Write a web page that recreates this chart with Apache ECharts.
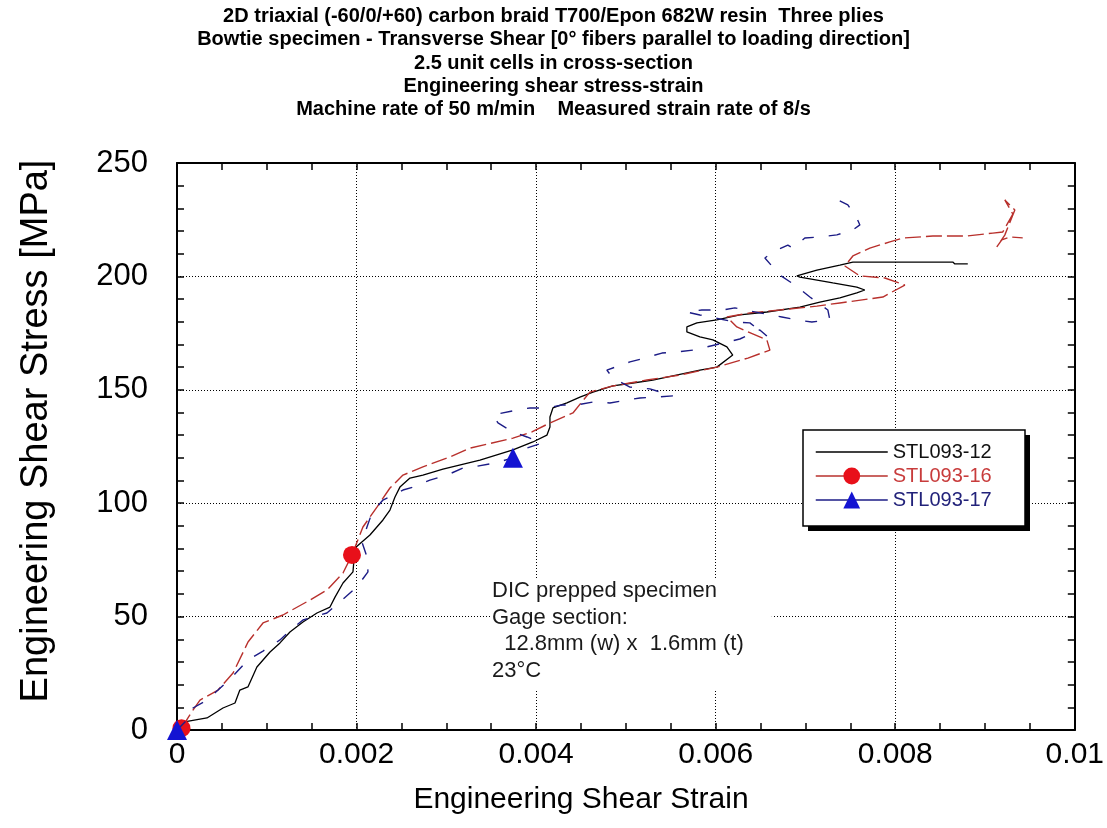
<!DOCTYPE html>
<html><head><meta charset="utf-8">
<script src="https://cdn.jsdelivr.net/npm/echarts@6/dist/echarts.min.js"></script>
<style>html,body{margin:0;padding:0;background:#fff}#c{width:1107px;height:828px}</style>
</head><body><div id="c"></div>
<script>
const titleLines = [
  '2D triaxial (-60/0/+60) carbon braid T700/Epon 682W resin  Three plies',
  'Bowtie specimen - Transverse Shear [0\u00b0 fibers parallel to loading direction]',
  '2.5 unit cells in cross-section',
  'Engineering shear stress-strain',
  'Machine rate of 50 m/min    Measured strain rate of 8/s'
];
const xAxisTitle = 'Engineering Shear Strain';
const yAxisTitle = 'Engineering Shear Stress [MPa]';
const xTickLabels = ['0', '0.002', '0.004', '0.006', '0.008', '0.01'];
const yTickLabels = ['0', '50', '100', '150', '200', '250'];
const seriesNames = ['STL093-12', 'STL093-16', 'STL093-17'];
const noteLines = ['DIC prepped specimen', 'Gage section:', '  12.8mm (w) x  1.6mm (t)', '23\u00b0C'];

// STL093-12 (black solid)
const strain12 = [0, 0.000067, 0.000334, 0.000512, 0.000646, 0.00070, 0.00079, 0.00089, 0.001036, 0.001147,
  0.001258, 0.001403, 0.001559, 0.001704, 0.00176, 0.001849, 0.00196, 0.001982, 0.002149, 0.002294,
  0.002372, 0.002428, 0.002483, 0.002595, 0.002739, 0.002962, 0.003374, 0.003742, 0.003964, 0.00412,
  0.004154, 0.004154, 0.004187, 0.004343, 0.004488, 0.004633, 0.004855, 0.005078, 0.00530, 0.005457,
  0.005824, 0.006013, 0.00619, 0.006125, 0.005969, 0.005824, 0.005679, 0.005679, 0.005791, 0.006013,
  0.006269, 0.00657, 0.006938, 0.00716, 0.007383, 0.007572, 0.007661, 0.007572, 0.007305, 0.006938,
  0.006904, 0.007127, 0.007383, 0.007528, 0.008641, 0.008664, 0.008808];
const stress12 = [0, 3.5, 5.3, 9.7, 11.9, 17.6, 19, 27.8, 34.4, 38.4,
  43.2, 47.6, 51.6, 54.2, 58.6, 64.8, 69.7, 80.2, 86, 92.6,
  97, 102.7, 107.1, 111.1, 112.4, 115, 119, 123.5, 127, 130,
  133.6, 138, 142, 144.2, 146.8, 149, 151.7, 153, 154.3, 155.6,
  158.7, 160, 165.3, 168.9, 172, 173.3, 175.5, 177.7, 179.5, 180.8,
  183, 184.3, 186.5, 188.7, 190.5, 192.7, 194, 195.3, 197.1, 199.7,
  200.2, 202.8, 205, 206.3, 206.3, 205.5, 205.5];

// STL093-16 (red dashed, circle markers)
const strain16 = [0.00005, 0.000178, 0.000256, 0.000457, 0.000624, 0.000791, 0.000958, 0.00118, 0.001481, 0.00167,
  0.001849, 0.001949, 0.002071, 0.002227, 0.002372, 0.002517, 0.002739, 0.00304, 0.003263, 0.003742,
  0.003953, 0.004154, 0.00441, 0.004599, 0.004855, 0.005234, 0.00560, 0.006013, 0.006359, 0.006604,
  0.00657, 0.006236, 0.006125, 0.006381, 0.006715, 0.007127, 0.007383, 0.007862, 0.008107, 0.007884,
  0.007606, 0.007439, 0.007528, 0.007717, 0.00794, 0.008085, 0.008419, 0.008797, 0.009087, 0.009198,
  0.00931, 0.00922, 0.009332, 0.00922, 0.009131, 0.009187, 0.009276, 0.00942];
const stress16 = [0.8, 8.8, 13.2, 17.6, 25.1, 38.8, 47.2, 50.7, 57.3, 61.7,
  69.2, 77.2, 89.5, 98.3, 106.7, 112.4, 116, 120.4, 124.3, 128.7,
  131.4, 135.4, 139.8, 149, 151.7, 154.3, 156.5, 160, 164, 167.5,
  172, 177.7, 182.1, 183.9, 185.2, 186.9, 188.3, 190.9, 196.2, 199.3,
  200.2, 204.6, 209, 212.5, 215.2, 216.9, 217.8, 217.8, 219.1, 219.6,
  227.5, 233.7, 229.3, 218.2, 213, 216.1, 217.4, 217];
const marks16 = [0, 11];

// STL093-17 (blue dashed, triangle markers)
const strain17 = [0, 0.000089, 0.000178, 0.000334, 0.000457, 0.000624, 0.000791, 0.000958, 0.001147, 0.001292,
  0.001403, 0.00167, 0.001837, 0.002004, 0.002127, 0.002116, 0.00206, 0.002116, 0.002171, 0.002294,
  0.002517, 0.002628, 0.002817, 0.003007, 0.003185, 0.003296, 0.003541, 0.003742, 0.003898, 0.004065,
  0.003898, 0.003742, 0.003575, 0.003519, 0.003786, 0.003931, 0.00412, 0.004287, 0.004454, 0.004633,
  0.004822, 0.005011, 0.005156, 0.005345, 0.005523, 0.005267, 0.005045, 0.004855, 0.004788, 0.005045,
  0.005212, 0.005401, 0.005568, 0.005746, 0.005902, 0.00608, 0.006269, 0.006492, 0.00657, 0.006381,
  0.006214, 0.005991, 0.005824, 0.005679, 0.005846, 0.00608, 0.006214, 0.006492, 0.006737, 0.006904,
  0.007071, 0.007272, 0.007249, 0.007049, 0.006882, 0.006715, 0.006548, 0.006637, 0.006804, 0.00686,
  0.006993, 0.00716, 0.00735, 0.007528, 0.007606, 0.007572, 0.007472, 0.007361];
const stress17 = [0, 3.5, 9.7, 13.2, 17.6, 23.8, 30.9, 34.8, 39.7, 45,
  48.5, 51.6, 57.3, 63.1, 69.7, 76.3, 82.9, 89.5, 95.7, 101.4,
  105.8, 107.1, 110.2, 112.4, 115.5, 116, 117.7, 120, 124.3, 126.5,
  129.2, 131.4, 135.4, 138.9, 141.1, 142, 142, 143.3, 143.3, 144.6,
  144.2, 145.5, 146.4, 146.8, 147.3, 150.4, 151.2, 155.2, 158.7, 162.3,
  164, 166.2, 166.7, 167.5, 168.9, 170.6, 172.4, 176.4, 173.7, 179.5,
  179.9, 181.7, 183, 184.3, 185.2, 185.2, 186.1, 183.9, 182.1, 180.8,
  179.9, 180.8, 185.2, 190.9, 196.2, 200.6, 208.1, 210.8, 213.8, 212.5,
  216.9, 217.4, 218.3, 220.5, 222.7, 225.7, 231.5, 233.7];
const marks17 = [0, 27];

const FONT = '"Liberation Sans", Arial, sans-serif';

function build(xs, ys, marks, size) {
  return xs.map((x, i) => marks.indexOf(i) >= 0
    ? { value: [x, ys[i]], symbolSize: size }
    : { value: [x, ys[i]], symbol: 'none' });
}

const chart = echarts.init(document.getElementById('c'), null, { renderer: 'canvas' });

const commonTick = { show: true, inside: true, length: 7, lineStyle: { color: '#000', width: 1.5 } };
const axisLine = { show: true, onZero: false, lineStyle: { color: '#000', width: 2 } };
const gridLine = { show: true, lineStyle: { color: '#000', width: 1, type: [1, 2] } };

chart.setOption({
  backgroundColor: '#fff',
  animation: false,
  title: {
    text: titleLines.join('\n'),
    left: 'center',
    top: 0,
    textStyle: { fontFamily: FONT, fontSize: 20, fontWeight: 'bold', color: '#000', lineHeight: 23.3 }
  },
  grid: { left: 177, right: 32, top: 163, bottom: 98, containLabel: false },
  xAxis: [{
    type: 'value', min: 0, max: 0.01, interval: 0.002, position: 'bottom',
    axisLine: axisLine, axisTick: commonTick,
    minorTick: { show: true, splitNumber: 4, length: 7, lineStyle: { color: '#000', width: 1.5 } },
    splitLine: gridLine,
    axisLabel: { margin: 10, color: '#000', fontFamily: FONT, fontSize: 30,
      formatter: (v) => xTickLabels[Math.round(v / 0.002)] }
  }, {
    type: 'value', min: 0, max: 0.01, interval: 0.002, position: 'top',
    axisLine: axisLine, axisTick: commonTick,
    minorTick: { show: true, splitNumber: 4, length: 7, lineStyle: { color: '#000', width: 1.5 } },
    splitLine: { show: false }, axisLabel: { show: false }
  }],
  yAxis: [{
    type: 'value', min: 0, max: 250, interval: 50, position: 'left',
    axisLine: axisLine, axisTick: commonTick,
    minorTick: { show: true, splitNumber: 5, length: 7, lineStyle: { color: '#000', width: 1.5 } },
    splitLine: gridLine,
    axisLabel: { margin: 29, color: '#000', fontFamily: FONT, fontSize: 31,
      formatter: (v) => yTickLabels[Math.round(v / 50)] }
  }, {
    type: 'value', min: 0, max: 250, interval: 50, position: 'right',
    axisLine: axisLine, axisTick: commonTick,
    minorTick: { show: true, splitNumber: 5, length: 7, lineStyle: { color: '#000', width: 1.5 } },
    splitLine: { show: false }, axisLabel: { show: false }
  }],
  legend: {
    orient: 'vertical', left: 803, top: 430, z: 6,
    itemWidth: 72, itemHeight: 21, itemGap: 4,
    padding: [12, 34, 12, 12],
    backgroundColor: 'transparent', borderWidth: 0,
    textStyle: { fontFamily: FONT, fontSize: 20 },
    lineStyle: { type: 'solid', width: 1.5 },
    selectedMode: false,
    data: [
      { name: seriesNames[0], icon: 'path://M0,0H100V2H0Z', itemStyle: { color: '#000' }, textStyle: { color: '#111' } },
      { name: seriesNames[1], textStyle: { color: '#c83c3c' } },
      { name: seriesNames[2], textStyle: { color: '#22227a' } }
    ]
  },
  graphic: [
    { type: 'rect', z: 4, shape: { x: 808, y: 435, width: 222, height: 96 }, style: { fill: '#000' } },
    { type: 'rect', z: 5, shape: { x: 803, y: 430, width: 222, height: 96 },
      style: { fill: '#fff', stroke: '#000', lineWidth: 1.5 } },
    { type: 'text', x: 37, y: 431, rotation: Math.PI / 2, z: 10,
      style: { text: yAxisTitle, font: '38px ' + FONT, fill: '#000', align: 'center', verticalAlign: 'middle' } },
    { type: 'text', x: 581, y: 800, z: 10,
      style: { text: xAxisTitle, font: '30px ' + FONT, fill: '#000', align: 'center', verticalAlign: 'middle' } },
    { type: 'text', x: 490, y: 578, z: 5,
      style: { text: noteLines.join('\n'), font: '22px ' + FONT, fill: '#1a1a1a', lineHeight: 26.5,
        backgroundColor: '#fff', padding: [0, 28, 6, 2] } }
  ],
  series: [
    { name: seriesNames[0], type: 'line', xAxisIndex: 0, yAxisIndex: 0, symbol: 'none',
      data: strain12.map((x, i) => [x, stress12[i]]),
      itemStyle: { color: '#000' }, lineStyle: { color: '#000', width: 1.3 }, z: 3 },
    { name: seriesNames[1], type: 'line', xAxisIndex: 0, yAxisIndex: 0, symbol: 'circle', showSymbol: true,
      data: build(strain16, stress16, marks16, 18),
      itemStyle: { color: '#e8101a' }, lineStyle: { color: '#b8302c', width: 1.4, type: [16, 5] }, z: 4 },
    { name: seriesNames[2], type: 'line', xAxisIndex: 0, yAxisIndex: 0, symbol: 'triangle', showSymbol: true,
      data: build(strain17, stress17, marks17, 20),
      itemStyle: { color: '#1414d2' }, lineStyle: { color: '#1c1c86', width: 1.4, type: [12, 15] }, z: 5 }
  ]
});
</script></body></html>
